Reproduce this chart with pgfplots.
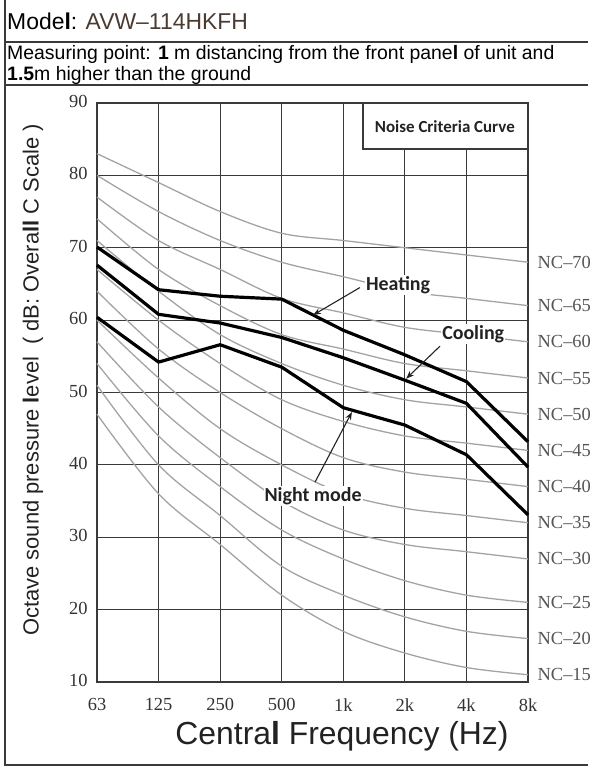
\documentclass[border=0pt]{standalone}
\usepackage{pgfplots}
\pgfplotsset{compat=1.18}
\usepackage{fontspec}
\setmainfont{Liberation Sans}
\newfontfamily\seriff{Liberation Serif}
\newfontfamily\calib{Carlito}
\usetikzlibrary{arrows.meta}
\definecolor{gridc}{HTML}{3A3A3A}
\definecolor{ncgray}{HTML}{A3A3A3}
\definecolor{nclab}{HTML}{555555}
\definecolor{tickc}{HTML}{333333}
\definecolor{modelc}{HTML}{4A3A30}
\definecolor{annc}{HTML}{222222}
\tikzset{nclabel/.style={right, inner sep=0bp, xshift=9bp, text=nclab, font=\seriff\fontsize{18.5}{18.5}\selectfont}}
\tikzset{ncstyle/.style={ncgray, line width=1.3bp, smooth, tension=0.55}}
\begin{document}
\begin{tikzpicture}
\begin{scope}[x=1bp,y=1bp]
\useasboundingbox (0,0) rectangle (588,770);
\draw[line width=2bp, color=gridc] (5,770) -- (5,5) -- (588,5);
\draw[line width=1.6bp, color=gridc] (5,728) -- (588,728);
\draw[line width=1.1bp, color=gridc] (5,685) -- (588,685);
\node[anchor=base west, inner sep=0, font=\fontsize{23}{25}\selectfont] at (7,740) {Mode\textbf{l}: \textcolor{modelc}{AVW–114HKFH}};
\node[anchor=base west, inner sep=0, font=\fontsize{19.5}{21}\selectfont] at (7,710) {Measuring point: \textbf{1} m distancing from the front pane\textbf{l} of unit and};
\node[anchor=base west, inner sep=0, font=\fontsize{19.5}{21}\selectfont] at (7,689.5) {\textbf{1.5}m higher than the ground};
\node[rotate=90, inner sep=0, text=annc, font=\fontsize{22}{22}\selectfont] at (33,390) {Octave sound pressure \textbf{l}evel \ ( dB: Overa\textbf{ll} C Scale )};
\node[inner sep=0, text=annc, font=\fontsize{32}{34}\selectfont] at (342,34) {Centra\textbf{l} Frequency (Hz)};
\end{scope}
\begin{axis}[
  at={(97bp,88bp)}, anchor=south west,
  scale only axis, width=431bp, height=579bp,
  xmin=0, xmax=7, ymin=10, ymax=90,
  xtick={0,1,2,3,4,5,6,7},
  xticklabels={63,125,250,500,1k,2k,4k,8k},
  ytick={10,20,30,40,50,60,70,80,90},
  grid=major,
  major grid style={gridc, line width=1.2bp},
  axis line style={gridc, line width=1.4bp},
  tick style={draw=none},
  ticklabel style={font=\seriff\fontsize{18.5}{18.5}\selectfont, text=tickc},
  xticklabel style={yshift=-13bp},
  yticklabel style={xshift=-6bp, yshift=1.5bp},
  /pgf/number format/assume math mode=true,
  clip=false,
]
% NC curves
\addplot[ncstyle] coordinates {(0,47) (1,36) (2,29) (3,22) (4,17) (5,14) (6,12) (7,11)} node[pos=1, nclabel] {NC–15};
\addplot[ncstyle] coordinates {(0,51) (1,40) (2,33) (3,26) (4,22) (5,19) (6,17) (7,16)} node[pos=1, nclabel] {NC–20};
\addplot[ncstyle] coordinates {(0,54) (1,44) (2,37) (3,31) (4,27) (5,24) (6,22) (7,21)} node[pos=1, nclabel] {NC–25};
\addplot[ncstyle] coordinates {(0,57) (1,48) (2,41) (3,35) (4,31) (5,29) (6,28) (7,27)} node[pos=1, nclabel] {NC–30};
\addplot[ncstyle] coordinates {(0,60) (1,52) (2,45) (3,40) (4,36) (5,34) (6,33) (7,32)} node[pos=1, nclabel] {NC–35};
\addplot[ncstyle] coordinates {(0,64) (1,56) (2,50) (3,45) (4,41) (5,39) (6,38) (7,37)} node[pos=1, nclabel] {NC–40};
\addplot[ncstyle] coordinates {(0,67) (1,60) (2,54) (3,49) (4,46) (5,44) (6,43) (7,42)} node[pos=1, nclabel] {NC–45};
\addplot[ncstyle] coordinates {(0,71) (1,64) (2,58) (3,54) (4,51) (5,49) (6,48) (7,47)} node[pos=1, nclabel] {NC–50};
\addplot[ncstyle] coordinates {(0,74) (1,67) (2,62) (3,58) (4,56) (5,54) (6,53) (7,52)} node[pos=1, nclabel] {NC–55};
\addplot[ncstyle] coordinates {(0,77) (1,71) (2,67) (3,63) (4,61) (5,59) (6,58) (7,57)} node[pos=1, nclabel] {NC–60};
\addplot[ncstyle] coordinates {(0,80) (1,75) (2,71) (3,68) (4,66) (5,64) (6,63) (7,62)} node[pos=1, nclabel] {NC–65};
\addplot[ncstyle] coordinates {(0,83) (1,79) (2,75) (3,72) (4,71) (5,70) (6,69) (7,68)} node[pos=1, nclabel] {NC–70};
% measured curves
\addplot[black, line width=3.2bp, line join=round] coordinates {(0,70.1) (1,64.2) (2,63.3) (3,62.9) (4,58.6) (5,55.2) (6,51.5) (7,43.2)};
\addplot[black, line width=3.2bp, line join=round] coordinates {(0,67.6) (1,60.8) (2,59.6) (3,57.6) (4,54.8) (5,51.7) (6,48.5) (7,39.7)};
\addplot[black, line width=3.2bp, line join=round] coordinates {(0,60.4) (1,54.2) (2,56.6) (3,53.5) (4,47.9) (5,45.5) (6,41.4) (7,33.1)};
% annotations
\draw[fill=white, draw=gridc, line width=1.4bp] (axis cs:4.32,83.65) rectangle (axis cs:7,90);
\node[text=annc, font=\calib\bfseries\fontsize{17}{17}\selectfont] at (axis cs:5.65,86.8) {Noise Criteria Curve};
\node[fill=white, inner sep=1bp, text=annc, font=\calib\bfseries\fontsize{20}{20}\selectfont] at (axis cs:4.89,64.85) {Heating};
\draw[-{Stealth[length=8bp,width=6bp]}, line width=1.1bp, annc] (axis cs:4.27,64.5) -- (axis cs:3.51,60.7);
\node[fill=white, inner sep=1bp, text=annc, font=\calib\bfseries\fontsize{20}{20}\selectfont] at (axis cs:6.11,58.1) {Cooling};
\draw[-{Stealth[length=8bp,width=6bp]}, line width=1.1bp, annc] (axis cs:5.57,56.4) -- (axis cs:5.02,51.9);
\node[fill=white, inner sep=1bp, text=annc, font=\calib\bfseries\fontsize{20}{20}\selectfont] at (axis cs:3.51,35.7) {Night mode};
\draw[-{Stealth[length=8bp,width=6bp]}, line width=1.1bp, annc] (axis cs:3.54,37.6) -- (axis cs:4.14,47.3);
\end{axis}
\end{tikzpicture}
\end{document}
